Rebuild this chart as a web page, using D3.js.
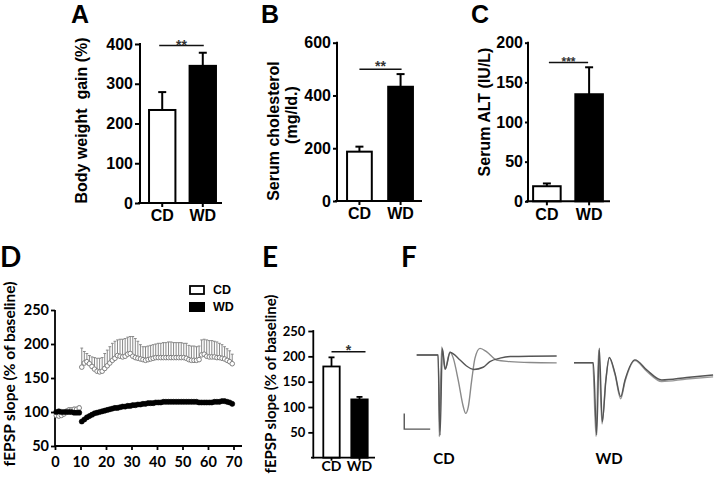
<!DOCTYPE html>
<html><head><meta charset="utf-8">
<script src="https://cdn.jsdelivr.net/npm/d3@7"></script>
<style>body{margin:0;background:#fff}svg{display:block}</style>
</head><body>
<svg id="c" width="714" height="478"></svg>
<script>
// ---------------- DATA ----------------
const groups = ["CD", "WD"];
const bodyWeightMean = [234, 345];
const bodyWeightSem = [45, 33];
const cholMean = [187, 433];
const cholSem = [19, 48];
const altMean = [19, 135];
const altSem = [3.5, 34];
const ltpMean = [180, 115];
const ltpSem = [18, 5];
const sigLevels = {A: 396, B: 499, C: 175, E: 209};
const sigLabels = {A: "**", B: "**", C: "***", E: "*"};

const ticksA = [0, 100, 200, 300, 400];
const ticksB = [0, 200, 400, 600];
const ticksC = [0, 50, 100, 150, 200];
const ticksDy = [50, 100, 150, 200, 250];
const ticksDx = [0, 10, 20, 30, 40, 50, 60, 70];
const ticksE = [50, 100, 150, 200, 250];

// LTP time course (min, % of baseline)
const baseTime = [0.5, 1.5, 2.5, 3.5, 4.5, 5.5, 6.5, 7.5, 8.5, 9.5];
const baseCD = [95, 94, 95, 97, 101, 103, 103, 104, 104, 106];
const baseCDsem = [3, 3, 3, 3, 3, 3, 3, 3, 3, 3];
const baseWD = [100, 101, 100, 100, 100, 100, 100, 99, 99, 99];
const baseWDsem = [2, 2, 2, 2, 2, 2, 2, 2, 2, 2];
const postTime = [10.5, 11.5, 12.5, 13.5, 14.5, 15.5, 16.5, 17.5, 18.5, 19.5,
  20.5, 21.5, 22.5, 23.5, 24.5, 25.5, 26.5, 27.5, 28.5, 29.5,
  30.5, 31.5, 32.5, 33.5, 34.5, 35.5, 36.5, 37.5, 38.5, 39.5,
  40.5, 41.5, 42.5, 43.5, 44.5, 45.5, 46.5, 47.5, 48.5, 49.5,
  50.5, 51.5, 52.5, 53.5, 54.5, 55.5, 56.5, 57.5, 58.5, 59.5,
  60.5, 61.5, 62.5, 63.5, 64.5, 65.5, 66.5, 67.5, 68.5, 69.5];
const postCD = [166, 172, 174, 171, 167, 163, 160, 159, 160, 164,
  168, 172, 176, 179, 183, 182, 181, 182, 185, 186,
  182, 180, 179, 178, 177, 176, 177, 178, 179, 180,
  180, 180, 180, 180, 180, 180, 180, 180, 180, 180,
  180, 179, 177, 176, 176, 176, 177, 184, 185, 182,
  181, 181, 181, 180, 180, 179, 178, 176, 174, 171];
const postCDsem = [28, 17, 12, 12, 14, 17, 19, 20, 20, 22,
  23, 24, 25, 25, 23, 25, 26, 26, 25, 25,
  29, 28, 25, 21, 19, 20, 20, 20, 20, 20,
  21, 21, 22, 22, 23, 23, 22, 22, 22, 22,
  21, 22, 21, 21, 21, 20, 20, 22, 22, 24,
  24, 24, 23, 23, 21, 20, 18, 17, 16, 14];
const postWD = [86, 89, 92, 94, 96, 98, 99, 100, 101, 102,
  103, 104, 105, 106, 106, 107, 108, 108, 109, 109,
  110, 110, 111, 111, 112, 112, 113, 113, 113, 114,
  114, 114, 115, 115, 115, 115, 115, 115, 115, 115,
  115, 115, 115, 115, 115, 115, 114, 114, 114, 114,
  114, 114, 115, 115, 115, 116, 116, 115, 114, 112];
const postWDsem = [3, 3, 3, 3, 3, 3, 3, 3, 3, 3,
  3, 3, 3, 3, 3, 3, 3, 3, 3, 3,
  3, 3, 3, 3, 3, 3, 3, 3, 3, 3,
  3, 3, 3, 3, 3, 3, 3, 3, 3, 3,
  3, 3, 3, 3, 3, 3, 3, 3, 3, 3,
  3, 3, 3, 3, 3, 3, 3, 3, 3, 3];

// Representative fEPSP traces (ms, mV)
const cdPostT = [0, 4.16, 4.35, 4.82, 5.45, 6.42, 7.05, 8.0, 8.98, 9.44, 9.94, 10.6, 11.23, 12.2, 13.5, 15.4, 18, 21.8, 26.97];
const cdPostV = [0, 0, -2.6, 0.26, -0.46, 0.1, -0.1, -0.8, -1.65, -1.86, -1.65, -0.8, -0.1, 0.21, 0.1, -0.16, -0.21, -0.24, -0.25];
const cdBaseT = [0, 4.1, 4.5, 4.95, 5.5, 6.45, 8.35, 9.6, 11.0, 12.8, 14.1, 16.05, 18, 26.97];
const cdBaseV = [0, 0, -2.55, 0.2, -0.45, 0.08, -0.16, -0.35, -0.46, -0.39, -0.21, -0.1, -0.05, -0.03];
const wdPostT = [0, 3.72, 4.37, 4.87, 5.45, 6.15, 6.8, 7.9, 9.0, 9.83, 11.75, 14.0, 16.9, 21.7, 26.8];
const wdPostV = [0, 0, -2.3, 0.46, -1.88, -0.55, 0.17, -0.34, -1.08, -0.55, 0.09, -0.23, -0.55, -0.47, -0.39];
const wdBaseT = [0, 3.6, 4.25, 4.75, 5.4, 6.1, 6.8, 7.9, 9.0, 9.83, 11.75, 14.0, 16.9, 21.7, 26.8];
const wdBaseV = [0, 0, -2.35, 0.4, -1.95, -0.6, 0.15, -0.38, -1.15, -0.6, 0.07, -0.27, -0.6, -0.52, -0.45];
const scaleBarMs = 5, scaleBarMv = 0.5;

// ---------------- DRAW ----------------
const ARIAL = "Arial, 'Liberation Sans', Helvetica, sans-serif";
const CAL = "Lato, 'Open Sans', sans-serif";
const svg = d3.select("#c");

function styleAxis(g, font, size, sw) {
  g.selectAll(".domain").remove();
  g.selectAll(".tick line").attr("stroke", "#000").attr("stroke-width", sw);
  g.selectAll(".tick text").attr("fill", "#000").attr("font-family", font)
    .attr("font-size", size).attr("font-weight", "bold");
}

function barPanel(o) {
  const g = svg.append("g");
  const y = d3.scaleLinear().domain(o.yDomain).range(o.yRange);
  const x = d3.scaleBand().domain(groups).range(o.xRange).paddingInner(o.pi).paddingOuter(0.05);
  const sw = o.sw || 2;
  g.selectAll("rect.bar").data(groups).join("rect")
    .attr("x", d => x(d) + sw / 2).attr("width", x.bandwidth() - sw)
    .attr("y", (d, i) => y(o.means[i])).attr("height", (d, i) => y(0) - y(o.means[i]))
    .attr("fill", (d, i) => i === 0 ? "#fff" : "#000").attr("stroke", "#000").attr("stroke-width", sw);
  groups.forEach((d, i) => {
    const cx = x(d) + x.bandwidth() / 2;
    g.append("line").attr("x1", cx).attr("x2", cx).attr("y1", y(o.means[i])).attr("y2", y(o.means[i] + o.sems[i]))
      .attr("stroke", "#000").attr("stroke-width", sw);
    g.append("line").attr("x1", cx - o.cap).attr("x2", cx + o.cap)
      .attr("y1", y(o.means[i] + o.sems[i])).attr("y2", y(o.means[i] + o.sems[i]))
      .attr("stroke", "#000").attr("stroke-width", sw);
  });
  const ya = g.append("g").attr("transform", `translate(${o.axisX},0)`)
    .call(d3.axisLeft(y).tickValues(o.ticks).tickSize(o.tick).tickPadding(o.pad).tickSizeOuter(0));
  styleAxis(ya, o.font, o.fs, sw);
  g.append("line").attr("x1", o.axisX).attr("x2", o.axisX).attr("y1", y(0)).attr("y2", y(o.yDomain[1]))
    .attr("stroke", "#000").attr("stroke-width", sw).attr("stroke-linecap", "square");
  const xa = g.append("g").attr("transform", `translate(0,${y(0)})`)
    .call(d3.axisBottom(x).tickSize(o.xtick).tickPadding(o.xpad).tickSizeOuter(0));
  styleAxis(xa, o.font, o.xfs || o.fs, sw);
  g.append("line").attr("x1", o.xAxisFrom).attr("x2", o.xAxisTo).attr("y1", y(0)).attr("y2", y(0))
    .attr("stroke", "#000").attr("stroke-width", sw);
  const c0 = x(groups[0]) + x.bandwidth() / 2 + o.sigOff[0], c1 = x(groups[1]) + x.bandwidth() / 2 + o.sigOff[1];
  g.append("line").attr("x1", c0).attr("x2", c1).attr("y1", y(o.sig)).attr("y2", y(o.sig))
    .attr("stroke", "#111").attr("stroke-width", 1.5);
  g.append("text").attr("x", (c0 + c1) / 2).attr("y", y(o.sig) + o.starDy).attr("text-anchor", "middle")
    .attr("font-family", ARIAL).attr("font-weight", "bold").attr("font-size", o.starFs).attr("fill", "#333")
    .text(o.sigText);
  return {x, y};
}

function rotText(x, y, txt, font, size) {
  svg.append("text").attr("transform", `translate(${x},${y}) rotate(-90)`).attr("text-anchor", "middle")
    .attr("font-family", font).attr("font-size", size).attr("font-weight", "bold").attr("fill", "#000")
    .attr("xml:space", "preserve").style("white-space", "pre").text(txt);
}
function label(x, y, txt, font, size, anchor) {
  svg.append("text").attr("x", x).attr("y", y).attr("text-anchor", anchor || "start")
    .attr("font-family", font).attr("font-size", size).attr("font-weight", "bold").attr("fill", "#000").text(txt);
}

// Panel A
barPanel({yDomain: [0, 400], yRange: [203, 44], xRange: [146, 219], pi: 0.3, means: bodyWeightMean, sems: bodyWeightSem,
  cap: 4, axisX: 140, ticks: ticksA, tick: 5, pad: 2, font: ARIAL, fs: 16, xtick: 4, xpad: 3, xAxisFrom: 138, xAxisTo: 222,
  sig: sigLevels.A, sigText: sigLabels.A, sigOff: [-3, 1], starDy: 4, starFs: 14});
rotText(87, 120.5, "Body weight  gain (%)", ARIAL, 16);
label(71, 23, "A", ARIAL, 25);

// Panel B
barPanel({yDomain: [0, 600], yRange: [201, 42.7], xRange: [344, 416], pi: 0.35, means: cholMean, sems: cholSem,
  cap: 4, axisX: 337, ticks: ticksB, tick: 4, pad: 2, font: ARIAL, fs: 16, xtick: 4, xpad: 3, xAxisFrom: 335, xAxisTo: 422,
  sig: sigLevels.B, sigText: sigLabels.B, sigOff: [0, 1], starDy: 2, starFs: 14});
rotText(279, 131, "Serum cholesterol", ARIAL, 16);
rotText(297, 115, "(mg/ld.)", ARIAL, 16);
label(261, 23, "B", ARIAL, 25);

// Panel C
barPanel({yDomain: [0, 200], yRange: [201.3, 42.7], xRange: [530, 606], pi: 0.3, means: altMean, sems: altSem,
  cap: 4, axisX: 528, ticks: ticksC, tick: 3, pad: 2, font: ARIAL, fs: 16, xtick: 4, xpad: 3, xAxisFrom: 526, xAxisTo: 610,
  sig: sigLevels.C, sigText: sigLabels.C, sigOff: [2, -1], starDy: 3, starFs: 12});
rotText(490, 112, "Serum ALT (IU/L)", ARIAL, 16);
label(471, 23, "C", ARIAL, 25);

// Panel D
(function () {
  const g = svg.append("g");
  const x = d3.scaleLinear().domain([0, 70]).range([55, 233.5]);
  const y = d3.scaleLinear().domain([50, 250]).range([446, 310]);
  const ya = g.append("g").attr("transform", "translate(55,0)")
    .call(d3.axisLeft(y).tickValues(ticksDy).tickSize(4).tickPadding(2).tickSizeOuter(0));
  styleAxis(ya, CAL, 14.5, 1.8);
  const xa = g.append("g").attr("transform", "translate(0,446)")
    .call(d3.axisBottom(x).tickValues(ticksDx).tickSize(4).tickPadding(6.5).tickSizeOuter(0));
  styleAxis(xa, CAL, 14.5, 1.8);
  g.append("line").attr("x1", 55).attr("x2", 55).attr("y1", 446).attr("y2", y(250)).attr("stroke", "#000").attr("stroke-width", 1.8);
  g.append("line").attr("x1", 55).attr("x2", 242).attr("y1", 446).attr("y2", 446).attr("stroke", "#000").attr("stroke-width", 1.8);

  const cd = baseTime.map((t, i) => ({t, m: baseCD[i], s: baseCDsem[i]}))
    .concat(postTime.map((t, i) => ({t, m: postCD[i], s: postCDsem[i]})));
  const wd = baseTime.map((t, i) => ({t, m: baseWD[i], s: baseWDsem[i]}))
    .concat(postTime.map((t, i) => ({t, m: postWD[i], s: postWDsem[i]})));
  function errs(data, color, w) {
    const e = g.append("g").attr("stroke", color).attr("stroke-width", w);
    e.selectAll("line.v").data(data).join("line").attr("class", "v")
      .attr("x1", d => x(d.t)).attr("x2", d => x(d.t)).attr("y1", d => y(d.m)).attr("y2", d => y(d.m + d.s));
    e.selectAll("line.c").data(data).join("line").attr("class", "c")
      .attr("x1", d => x(d.t) - 1.4).attr("x2", d => x(d.t) + 1.4).attr("y1", d => y(d.m + d.s)).attr("y2", d => y(d.m + d.s));
  }
  errs(cd, "#888", 1);
  errs(wd, "#aaa", 1);
  g.append("g").selectAll("circle").data(cd).join("circle")
    .attr("cx", d => x(d.t)).attr("cy", d => y(d.m)).attr("r", 2.3)
    .attr("fill", "#fff").attr("stroke", "#808080").attr("stroke-width", 1);
  g.append("g").selectAll("circle").data(wd).join("circle")
    .attr("cx", d => x(d.t)).attr("cy", d => y(d.m)).attr("r", 2.6)
    .attr("fill", "#000").attr("stroke", "#000").attr("stroke-width", 0.5);

  g.append("rect").attr("x", 190).attr("y", 286).attr("width", 14).attr("height", 8)
    .attr("fill", "#fff").attr("stroke", "#000").attr("stroke-width", 1.8);
  g.append("rect").attr("x", 189).attr("y", 302).attr("width", 16).attr("height", 10).attr("fill", "#000");
  label(213, 294, "CD", ARIAL, 12.5);
  label(213, 311, "WD", ARIAL, 12.5);
})();
rotText(15, 374, "fEPSP slope (% of baseline)", CAL, 15.5);
label(0, 267, "D", CAL, 28);

// Panel E
barPanel({yDomain: [0, 250], yRange: [457.7, 331], xRange: [321, 370], pi: 0.35, means: ltpMean, sems: ltpSem,
  cap: 3, axisX: 313.3, ticks: ticksE, tick: 5, pad: 3, font: CAL, fs: 13, xtick: 3, xpad: 0.5, xfs: 14,
  xAxisFrom: 311, xAxisTo: 375, sw: 1.8,
  sig: sigLevels.E, sigText: sigLabels.E, sigOff: [0, 6], starDy: 3, starFs: 14});
rotText(276, 384, "fEPSP slope (% of baseline)", CAL, 15);
label(262, 267, "E", CAL, 28);

// Panel F
(function () {
  const g = svg.append("g").attr("fill", "none");
  const xCD = d3.scaleLinear().domain([0, 27]).range([416.7, 416.7 + 27 * 5.19]);
  const yCD = d3.scaleLinear().domain([0, 1]).range([355, 323.6]);
  const xWD = d3.scaleLinear().domain([0, 27]).range([574, 574 + 27 * 5.19]);
  const yWD = d3.scaleLinear().domain([0, 1]).range([362.7, 331.3]);
  function trace(T, V, xs, ys, color, w) {
    const line = d3.line().x(d => xs(d[0])).y(d => ys(d[1])).curve(d3.curveMonotoneX);
    g.append("path").attr("d", line(T.map((t, i) => [t, V[i]])))
      .attr("stroke", color).attr("stroke-width", w).attr("fill", "none");
  }
  trace(cdPostT, cdPostV, xCD, yCD, "#8a8a8a", 1.4);
  trace(cdBaseT, cdBaseV, xCD, yCD, "#555", 1.4);
  trace(wdBaseT, wdBaseV, xWD, yWD, "#999", 1.4);
  trace(wdPostT, wdPostV, xWD, yWD, "#555", 1.4);
  const sx = -2.4, sy = -2.36;
  g.append("path").attr("d", d3.line()([[xCD(sx), yCD(sy + scaleBarMv)], [xCD(sx), yCD(sy)], [xCD(sx + scaleBarMs), yCD(sy)]]))
    .attr("stroke", "#555").attr("stroke-width", 1.4);
})();
label(444, 463.5, "CD", CAL, 15, "middle");
label(609, 463.5, "WD", CAL, 15, "middle");
label(401, 267, "F", CAL, 28);
</script>
</body></html>
